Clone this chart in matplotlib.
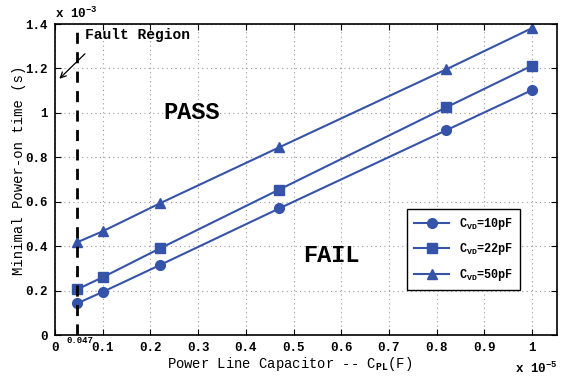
import numpy as np
import matplotlib
matplotlib.use('Agg')
import matplotlib.pyplot as plt

# capacitor values (x 1e-5 F) and minimal power-on times (x 1e-3 s)
c_pl = [0.047, 0.1, 0.22, 0.47, 0.82, 1.0]
t_10pf = [0.143, 0.194, 0.315, 0.570, 0.922, 1.103]
t_22pf = [0.206, 0.260, 0.390, 0.655, 1.025, 1.213]
t_50pf = [0.418, 0.467, 0.593, 0.845, 1.196, 1.382]
labels = ['C$_{\\mathbf{VD}}$=10pF', 'C$_{\\mathbf{VD}}$=22pF', 'C$_{\\mathbf{VD}}$=50pF']
xticks = [0, 0.1, 0.2, 0.3, 0.4, 0.5, 0.6, 0.7, 0.8, 0.9, 1.0]
yticks = [0, 0.2, 0.4, 0.6, 0.8, 1.0, 1.2, 1.4]

plt.rcParams.update({
    'font.family': 'Liberation Mono',
    'font.weight': 'bold',
    'mathtext.fontset': 'custom',
    'mathtext.rm': 'Liberation Mono:bold',
    'mathtext.bf': 'Liberation Mono:bold',
    'mathtext.it': 'Liberation Mono:bold',
})

blue = '#3553a8'
fig = plt.figure(figsize=(5.64, 3.76), dpi=100)
ax = fig.add_axes([0.0975, 0.109, 0.89, 0.827])

for vals, mk, lab in zip([t_10pf, t_22pf, t_50pf], ['o', 's', '^'], labels):
    ax.plot(c_pl, vals, color=blue, marker=mk, markersize=7, linewidth=1.5, label=lab)

ax.axvline(0.047, color='black', linestyle=(0, (4, 3)), linewidth=2)

ax.set_xlim(0, 1.052)
ax.set_ylim(0, 1.4)
ax.set_xticks(xticks)
ax.set_xticklabels(['0', '0.1', '0.2', '0.3', '0.4', '0.5', '0.6', '0.7', '0.8', '0.9', '1'])
ax.set_yticks(yticks)
ax.set_yticklabels(['0', '0.2', '0.4', '0.6', '0.8', '1', '1.2', '1.4'])
ax.tick_params(direction='in', labelsize=9, pad=5, length=4, top=True, right=True)
ax.grid(True, linestyle=(0, (1, 3)), color='#999999', linewidth=0.8)
for s in ax.spines.values():
    s.set_linewidth(1.2)

ax.set_xlabel('Power Line Capacitor -- C$_{\\mathbf{PL}}$(F)', fontsize=10)
ax.xaxis.set_label_coords(0.468, -0.064)
ax.set_ylabel('Minimal Power-on time (s)', fontsize=10)
ax.yaxis.set_label_coords(-0.058, 0.53)

ax.text(0.0, 1.01, 'x 10$^{-3}$', transform=ax.transAxes, fontsize=9, ha='left', va='bottom')
ax.text(1.0, -0.108, 'x 10$^{-5}$', transform=ax.transAxes, fontsize=9, ha='right', va='center')
ax.text(0.025, -0.004, '0.047', fontsize=6.5, ha='left', va='top', transform=ax.get_xaxis_transform())

ax.text(0.063, 1.35, 'Fault Region', fontsize=10.5, ha='left', va='center')
ax.annotate('', xy=(0.005, 1.145), xytext=(0.067, 1.275),
            arrowprops=dict(arrowstyle='->', color='black', lw=0.9))
ax.text(0.287, 1.0, 'PASS', fontsize=17, ha='center', va='center')
ax.text(0.579, 0.36, 'FAIL', fontsize=17, ha='center', va='center')

leg = ax.legend(loc='lower left', bbox_to_anchor=(0.701, 0.145), borderaxespad=0,
                fontsize=8.5, fancybox=False, edgecolor='black', framealpha=1,
                handlelength=3, borderpad=0.6, labelspacing=0.8)
leg.get_frame().set_linewidth(1.0)

fig.savefig('out.png', dpi=100, facecolor='white')
